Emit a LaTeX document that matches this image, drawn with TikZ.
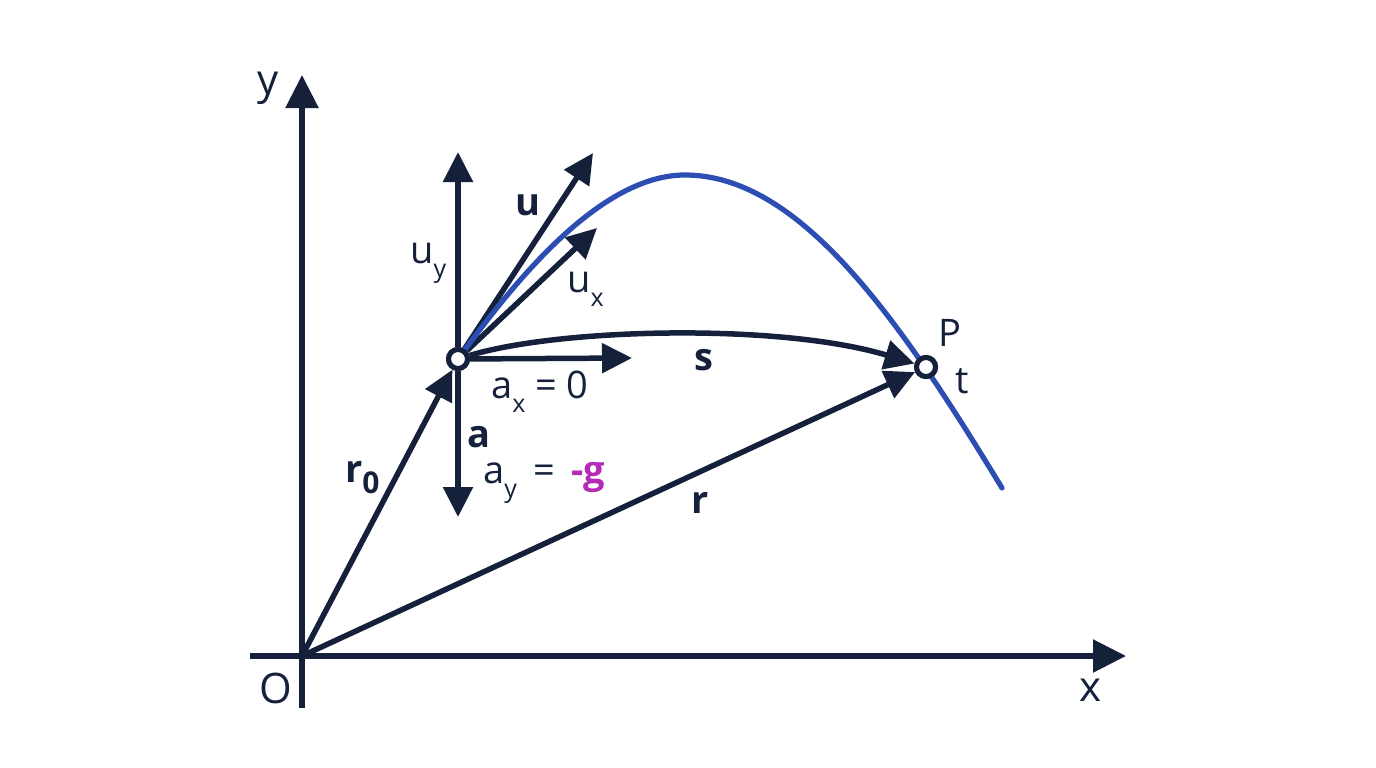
\documentclass[tikz,border=0pt]{standalone}
\usepackage{fontspec}
\setmainfont{Open Sans}
\usetikzlibrary{arrows.meta}
\definecolor{ink}{HTML}{15203A}
\definecolor{traj}{HTML}{2C4DB2}
\definecolor{mag}{HTML}{B52AB8}
\newcommand{\lowsub}[1]{\raisebox{-0.38em}{\fontsize{25}{25}\selectfont #1}}
\newcommand{\bigsub}[1]{\raisebox{-0.3em}{\fontsize{30}{30}\selectfont #1}}
\tikzset{
  vec/.style={draw=ink, line width=5.5pt, -{Triangle[length=30pt,width=29pt]}},
  axis/.style={draw=ink, line width=5.5pt, -{Triangle[length=33pt,width=32pt]}},
  pt/.style={circle, draw=ink, fill=white, line width=5pt, inner sep=0pt, minimum size=19pt},
  lbl/.style={text=ink, inner sep=0pt, font=\fontsize{38}{38}\selectfont},
  axlbl/.style={text=ink, inner sep=0pt, font=\fontsize{42}{42}\selectfont},
  bold/.style={lbl, font=\fontsize{38}{38}\selectfont\bfseries},
}
\begin{document}
\begin{tikzpicture}[x=1pt,y=-1pt]
\useasboundingbox (0,0) rectangle (1376,768);
% coordinates
\coordinate (O) at (302,656);
\coordinate (ybot) at (302,708);
\coordinate (ytop) at (302,75);
\coordinate (xleft) at (250,656);
\coordinate (xright) at (1126,656);
\coordinate (uyend) at (458,152);
\coordinate (uend) at (593,153);
\coordinate (uxend) at (597,228);
\coordinate (axend) at (632,358);
\coordinate (aend) at (458,517);
\coordinate (peak) at (685,175);
\coordinate (trajend) at (1002,488);
% point nodes (placed first for borders; redrawn on top later)
\node[pt] (A) at (458,359) {};
\node[pt] (P) at (926,367) {};
% axes
\draw[axis] (ybot) -- (ytop);
\draw[axis] (xleft) -- (xright);
% vectors
\draw[vec] (O) -- (A);
\draw[vec] (O) -- (P);
\draw[vec] (A) .. controls (560,328) and (780,323) .. (P);
\draw[vec] (A) -- (uyend);
\draw[vec] (A) -- (uend);
\draw[vec] (A) -- (uxend);
\draw[vec] (A) -- (axend);
\draw[vec] (A) -- (aend);
% trajectory
\draw[traj, line width=5.2pt, line cap=round] (A.center) .. controls (505,295) and (595,175) .. (peak)
  .. controls (800,175) and (900,320) .. (trajend);
% points on top
\node[pt] at (A) {};
\node[pt] at (P) {};
% labels
\node[axlbl] (ylab) at (268,88) {y};
\node[axlbl] (olab) at (276,688) {O};
\node[axlbl] (xlab) at (1090,690) {x};
\node[bold] (ulab) at (528,205) {u};
\node[lbl, anchor=base west] (uylab) at (410,263) {u\lowsub{y}};
\node[lbl, anchor=base west] (uxlab) at (567,292) {u\lowsub{x}};
\node[lbl, anchor=base west] (axlab) at (491,398) {a\lowsub{x} = 0};
\node[bold] (alab) at (479,437) {a};
\node[lbl, anchor=base west] (aylab) at (483,483) {a\lowsub{y} \,=\, \textcolor{mag}{\bfseries -g}};
\node[bold] (slab) at (704,360) {s};
\node[bold] (rlab) at (700,503) {r};
\node[lbl, anchor=base west] (r0lab) at (345,482) {\bfseries r\bigsub{\bfseries 0}};
\node[lbl] (plab) at (950,333) {P};
\node[lbl] (tlab) at (962,381) {t};
\end{tikzpicture}
\end{document}
